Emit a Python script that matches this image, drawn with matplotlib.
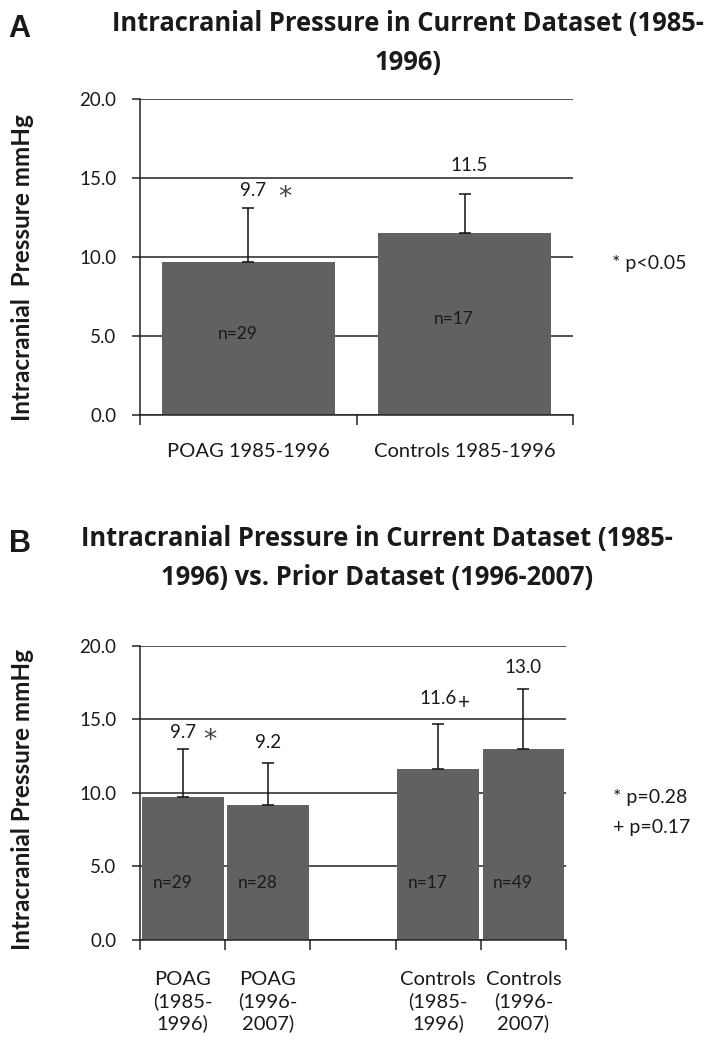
import numpy as np
import matplotlib
matplotlib.use('Agg')
import matplotlib.pyplot as plt

plt.rcParams['font.family'] = ['Lato', 'DejaVu Sans']

# panel A data
a_labels = ['POAG 1985-1996', 'Controls 1985-1996']
a_means = [9.7, 11.5]
a_err = [3.4, 2.5]
a_n = [29, 17]
a_value_text = ['9.7', '11.5']
a_marks = ['*', '']

# panel B data (third slot is an empty gap in the original chart)
b_labels = ['POAG\n(1985-\n1996)', 'POAG\n(1996-\n2007)', '',
            'Controls\n(1985-\n1996)', 'Controls\n(1996-\n2007)']
b_means = [9.7, 9.2, np.nan, 11.6, 13.0]
b_err = [3.3, 2.85, np.nan, 3.1, 4.1]
b_n = [29, 28, None, 17, 49]
b_value_text = ['9.7', '9.2', '', '11.6', '13.0']
b_marks = ['*', '', '', '+', '']

yticks = [0, 5, 10, 15, 20]

BAR = '#616161'
INK = '#1a1a1a'
TITLE_FONT = ['Open Sans', 'DejaVu Sans']


def style_axes(ax, ncat, xlabels, label_pad):
    ax.set_ylim(0, 20)
    ax.set_xlim(-0.5, ncat - 0.5)
    ax.set_yticks(yticks)
    ax.set_yticklabels(['%.1f' % t for t in yticks])
    ax.yaxis.grid(True, color='#222222', linewidth=1.1)
    ax.set_axisbelow(True)
    for side in ['top', 'right']:
        ax.spines[side].set_visible(False)
    for side in ['left', 'bottom']:
        ax.spines[side].set_color('#222222')
        ax.spines[side].set_linewidth(1.1)
    ax.tick_params(axis='y', length=6, width=1.1, color='#222222',
                   pad=11, labelsize=13.5, labelcolor=INK)
    # category labels in the middle, tick marks between categories
    ax.set_xticks(range(ncat))
    ax.set_xticklabels(xlabels, fontsize=14.5, color=INK, linespacing=1.3)
    ax.tick_params(axis='x', which='major', length=0, pad=label_pad)
    ax.set_xticks(np.arange(-0.5, ncat, 1.0), minor=True)
    ax.tick_params(axis='x', which='minor', length=7, width=1.1,
                   color='#222222')


def mark(ax, x, y, s):
    # significance marks: a large, vertically centred asterisk / plus
    if s == '*':
        ax.text(x, y - 0.45, s, ha='center', va='center', fontsize=19,
                family='DejaVu Sans', color='#444444')
    else:
        ax.text(x, y, s, ha='center', va='center', fontsize=15,
                color=INK)


fig = plt.figure(figsize=(7.17, 10.5), dpi=100)

# ---- panel A ----
axA = fig.add_axes([0.1953, 0.6048, 0.6039, 0.3010])
xa = np.arange(len(a_means))
axA.bar(xa, a_means, width=0.8, color=BAR, zorder=2)
axA.errorbar(xa, a_means, yerr=[np.zeros(len(a_err)), a_err], fmt='none',
             ecolor='#111111', elinewidth=1.1, capsize=4, capthick=1.1,
             zorder=3)
style_axes(axA, len(a_means), a_labels, 20)

a_text_gap = [1.1, 1.8]
for i in range(len(a_means)):
    top = a_means[i] + a_err[i]
    axA.text(xa[i] + 0.02, top + a_text_gap[i], a_value_text[i],
             ha='center', va='center', fontsize=13.5, color=INK)
    if a_marks[i]:
        mark(axA, xa[i] + 0.17, top + a_text_gap[i], a_marks[i])
    axA.text(xa[i] - 0.05, a_means[i] / 2 + 0.3, 'n=%d' % a_n[i],
             ha='center', va='center', fontsize=12.5, color=INK, zorder=4)

fig.text(612 / 717, 1 - 263 / 1050, '* p<0.05', ha='left', va='center',
         fontsize=14, color=INK)

# ---- panel B ----
axB = fig.add_axes([0.1953, 0.1048, 0.5941, 0.2800])
xb = np.arange(len(b_means))
axB.bar(xb, b_means, width=0.96, color=BAR, zorder=2)
axB.errorbar(xb, b_means, yerr=[np.zeros(len(b_err)), b_err], fmt='none',
             ecolor='#111111', elinewidth=1.1, capsize=4, capthick=1.1,
             zorder=3)
style_axes(axB, len(b_means), b_labels, 22)

b_text_gap = [1.1, 1.4, 0, 1.7, 1.45]
b_mark_dx = [0.32, 0, 0, 0.30, 0]
b_mark_dy = [-0.1, 0, 0, -0.25, 0]
for i in range(len(b_means)):
    if b_n[i] is None:
        continue
    top = b_means[i] + b_err[i]
    axB.text(xb[i], top + b_text_gap[i], b_value_text[i],
             ha='center', va='center', fontsize=13.5, color=INK)
    if b_marks[i]:
        mark(axB, xb[i] + b_mark_dx[i], top + b_text_gap[i] + b_mark_dy[i],
             b_marks[i])
    axB.text(xb[i] - 0.12, 3.9, 'n=%d' % b_n[i],
             ha='center', va='center', fontsize=12.5, color=INK, zorder=4)

fig.text(613 / 717, 1 - 798 / 1050, '* p=0.28', ha='left', va='center',
         fontsize=14, color=INK)
fig.text(613 / 717, 1 - 827 / 1050, '+ p=0.17', ha='left', va='center',
         fontsize=14, color=INK)

# ---- titles, panel letters, y labels ----
fig.text(408 / 717, 1 - 43 / 1050,
         'Intracranial Pressure in Current Dataset (1985-\n1996)',
         ha='center', va='center', fontsize=18.4, fontweight='bold',
         family=TITLE_FONT, color=INK, linespacing=1.58)
fig.text(377 / 717, 1 - 558 / 1050,
         'Intracranial Pressure in Current Dataset (1985-\n'
         '1996) vs. Prior Dataset (1996-2007)',
         ha='center', va='center', fontsize=18.4, fontweight='bold',
         family=TITLE_FONT, color=INK, linespacing=1.58)

fig.text(8 / 717, 1 - 29 / 1050, 'A', ha='left', va='center',
         fontsize=22, fontweight='bold', family='Liberation Sans', color=INK)
fig.text(9 / 717, 1 - 544 / 1050, 'B', ha='left', va='center',
         fontsize=22, fontweight='bold', family='Liberation Sans', color=INK)

fig.text(23 / 717, 1 - 268 / 1050, 'Intracranial  Pressure mmHg',
         rotation=90, ha='center', va='center', fontsize=17.5,
         fontweight='bold', color=INK)
fig.text(23 / 717, 1 - 799 / 1050, 'Intracranial Pressure mmHg',
         rotation=90, ha='center', va='center', fontsize=17.5,
         fontweight='bold', color=INK)

fig.savefig('out.png', dpi=100)
